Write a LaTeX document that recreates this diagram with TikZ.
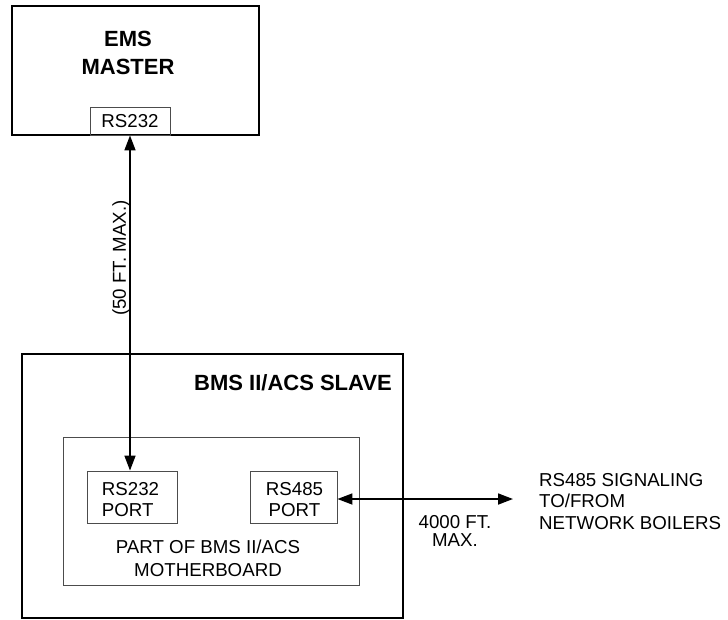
\documentclass[tikz,border=0pt]{standalone}
\usepackage{fontspec}
\setmainfont{Liberation Sans}
\usetikzlibrary{arrows.meta}
\begin{document}
\begin{tikzpicture}[x=1pt,y=-1pt,
  box/.style={draw, line width=1.7pt, inner sep=0},
  thinbox/.style={draw=black!70, line width=0.9pt, inner sep=0},
  reg/.style={font=\fontsize{18.7}{21.5}\selectfont, align=center, inner sep=0},
  boldtxt/.style={font=\fontsize{22}{28}\selectfont\bfseries, align=center, inner sep=0},
  conn/.style={line width=1.7pt, {Triangle[length=15pt,width=11pt]}-{Triangle[length=15pt,width=11pt]}}]
\useasboundingbox (0,0) rectangle (728,619);
% EMS master
\node[box, minimum width=247, minimum height=129] (ems) at (135.5,70.5) {};
\node[boldtxt] (emstxt) at (128,53) {EMS\\MASTER};
\node[thinbox, minimum width=80, minimum height=28, reg] (ems232) at (130,121) {RS232};
% slave
\node[box, line width=1.3pt, minimum width=381, minimum height=264] (slave) at (212.5,486) {};
\node[boldtxt, anchor=east] (slavetxt) at (392,383) {BMS II/ACS SLAVE};
\node[thinbox, minimum width=296, minimum height=148] (mb) at (211,511) {};
\node[thinbox, minimum width=90, minimum height=52] (port232) at (132,497) {};
\node[reg, align=left] (p232txt) at (130.5,499.5) {RS232\\PORT};
\node[thinbox, minimum width=87, minimum height=52] (port485) at (293.5,497) {};
\node[reg] (p485txt) at (294.5,499.5) {RS485\\PORT};
\node[reg, font=\fontsize{18.7}{23}\selectfont] (mbtxt) at (208,558.5) {PART OF BMS II/ACS\\MOTHERBOARD};
% connectors
\draw[conn] (ems232.south) -- (ems232.south |- port232.north);
\node[reg, rotate=90] (fifty) at (121,258) {(50 FT. MAX.)};
\coordinate (r485) at (513,499);
\draw[conn] (port485.east |- r485) -- (r485);
\node[reg, font=\fontsize{18.7}{17.5}\selectfont] (fourk) at (455,531) {4000 FT.\\MAX.};
\node[reg, align=left, anchor=west] (sig) at (539,501.5) {RS485 SIGNALING\\TO/FROM\\NETWORK BOILERS};
\end{tikzpicture}
\end{document}
